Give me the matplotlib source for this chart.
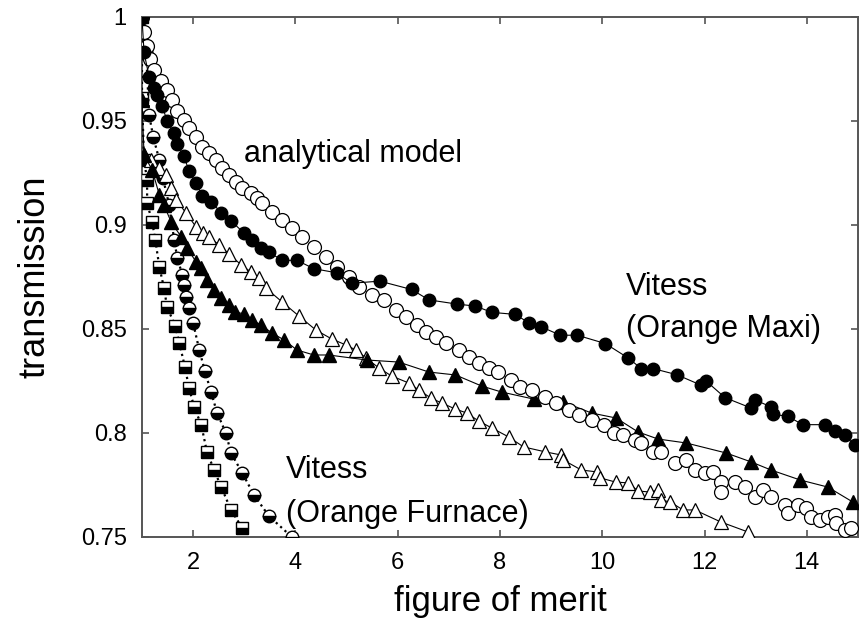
import matplotlib.pyplot as plt
from matplotlib import rcParams

rcParams['font.family'] = ['Liberation Sans', 'DejaVu Sans']

# open circles (no line)
oc_x = [1.00, 1.04, 1.10, 1.16, 1.24, 1.38, 1.49, 1.59, 1.69, 1.82, 1.92, 2.06, 2.18, 2.31,
        2.45, 2.57, 2.70, 2.84, 2.96, 3.13, 3.25, 3.35, 3.54, 3.74, 3.93, 4.13, 4.36, 4.59,
        4.81, 5.05, 5.24, 5.50, 5.73, 5.96, 6.16, 6.37, 6.55, 6.74, 6.94, 7.19, 7.39, 7.58,
        7.78, 7.97, 8.21, 8.40, 8.62, 8.89, 9.09, 9.34, 9.54, 9.79, 10.03, 10.22, 10.41,
        10.64, 10.76, 10.99, 11.15, 11.42, 11.64, 11.81, 12.01, 12.16, 12.32, 12.32, 12.60,
        12.79, 12.98, 13.14, 13.30, 13.57, 13.63, 13.83, 13.98, 14.08, 14.26, 14.41, 14.55,
        14.57, 14.74, 14.86]
oc_y = [1.000, 0.993, 0.986, 0.980, 0.9745, 0.969, 0.965, 0.960, 0.955, 0.9505, 0.9466,
        0.9423, 0.9375, 0.9346, 0.9312, 0.9274, 0.9240, 0.9207, 0.9178, 0.9154, 0.9130,
        0.9106, 0.9062, 0.9024, 0.8986, 0.8942, 0.8894, 0.8846, 0.8798, 0.8750, 0.8702,
        0.8663, 0.8639, 0.8591, 0.8558, 0.8519, 0.8486, 0.8462, 0.8433, 0.8399, 0.8365,
        0.8337, 0.8312, 0.8293, 0.8255, 0.8221, 0.8207, 0.8173, 0.8144, 0.8111, 0.8087,
        0.8063, 0.8038, 0.8000, 0.7990, 0.7966, 0.7952, 0.7909, 0.7909, 0.7856, 0.7870,
        0.7822, 0.7808, 0.7812, 0.7764, 0.7716, 0.7764, 0.7740, 0.7692, 0.7726, 0.7692,
        0.7654, 0.7615, 0.7654, 0.7640, 0.7596, 0.7582, 0.7596, 0.7606, 0.7567, 0.7534,
        0.7543]

# filled circles, Vitess (Orange Maxi)
fc_x = [1.00, 1.04, 1.14, 1.24, 1.30, 1.40, 1.49, 1.63, 1.69, 1.82, 1.92, 2.06, 2.18, 2.35,
        2.55, 2.74, 3.00, 3.15, 3.33, 3.48, 3.74, 4.03, 4.36, 4.81, 5.10, 5.65, 6.27, 6.61,
        7.15, 7.52, 7.84, 8.30, 8.56, 8.81, 9.18, 9.51, 10.06, 10.51, 10.76, 10.99, 11.46,
        11.93, 12.03, 12.40, 12.91, 12.98, 13.30, 13.34, 13.63, 13.92, 14.35, 14.55, 14.74,
        14.94]
fc_y = [0.9995, 0.983, 0.971, 0.966, 0.9625, 0.957, 0.950, 0.944, 0.939, 0.933, 0.926,
        0.920, 0.914, 0.911, 0.906, 0.902, 0.896, 0.893, 0.889, 0.887, 0.883, 0.883, 0.879,
        0.877, 0.872, 0.873, 0.869, 0.864, 0.862, 0.861, 0.858, 0.857, 0.853, 0.851, 0.847,
        0.847, 0.843, 0.836, 0.831, 0.831, 0.828, 0.823, 0.825, 0.817, 0.812, 0.816, 0.8125,
        0.809, 0.808, 0.804, 0.804, 0.801, 0.799, 0.794]

# open triangles
ot_x = [1.04, 1.18, 1.34, 1.47, 1.57, 1.67, 1.86, 2.06, 2.20, 2.31, 2.51, 2.70, 2.94, 3.13,
        3.29, 3.42, 3.74, 4.07, 4.40, 4.71, 4.99, 5.18, 5.38, 5.63, 5.88, 6.22, 6.41, 6.65,
        6.86, 7.13, 7.35, 7.58, 7.84, 8.17, 8.46, 8.89, 9.20, 9.24, 9.59, 9.89, 9.96, 10.26,
        10.51, 10.70, 10.94, 11.09, 11.15, 11.33, 11.58, 11.81, 12.32, 12.85]
ot_y = [0.9337, 0.9312, 0.9274, 0.9240, 0.9178, 0.9120, 0.9058, 0.8990, 0.8962, 0.8942,
        0.8904, 0.8861, 0.8808, 0.8774, 0.8745, 0.8697, 0.8630, 0.8562, 0.8495, 0.8452,
        0.8423, 0.8399, 0.8361, 0.8313, 0.8274, 0.8240, 0.8207, 0.8168, 0.8144, 0.8115,
        0.8096, 0.8058, 0.8024, 0.7981, 0.7933, 0.7909, 0.7894, 0.7870, 0.7822, 0.7813,
        0.7784, 0.7764, 0.7760, 0.7721, 0.7716, 0.7726, 0.7678, 0.7668, 0.7630, 0.7630,
        0.7572, 0.7524]

# filled triangles
ft_x = [1.00, 1.04, 1.20, 1.34, 1.43, 1.57, 1.77, 1.88, 2.06, 2.16, 2.27, 2.41, 2.55, 2.70,
        2.82, 3.00, 3.15, 3.33, 3.54, 3.78, 4.03, 4.36, 4.65, 5.39, 6.02, 6.61, 7.13, 7.64,
        8.03, 8.66, 9.24, 9.79, 10.27, 10.70, 11.09, 11.64, 12.42, 12.91, 13.30, 13.87,
        14.41, 14.90]
ft_y = [0.960, 0.9337, 0.9264, 0.9144, 0.9096, 0.9014, 0.8942, 0.8889, 0.8822, 0.8793,
        0.8736, 0.8688, 0.8649, 0.8615, 0.8582, 0.8572, 0.8543, 0.8519, 0.8481, 0.8447,
        0.8399, 0.8375, 0.8375, 0.8351, 0.8341, 0.8293, 0.8279, 0.8226, 0.8197, 0.8163,
        0.8149, 0.8096, 0.8072, 0.8005, 0.7971, 0.7952, 0.7904, 0.7861, 0.7822, 0.7774,
        0.7740, 0.7668]

# half-filled circles, Vitess (Orange Furnace)
hc_x = [1.00, 1.02, 1.08, 1.14, 1.22, 1.34, 1.41, 1.53, 1.63, 1.69, 1.79, 1.82, 1.86, 1.92,
        2.00, 2.12, 2.23, 2.35, 2.47, 2.64, 2.74, 2.96, 3.19, 3.48, 3.93]
hc_y = [1.000, 0.9923, 0.9832, 0.9529, 0.9423, 0.9312, 0.9226, 0.9096, 0.8928, 0.8841,
        0.8760, 0.8712, 0.8654, 0.8601, 0.8529, 0.8399, 0.8298, 0.8197, 0.8096, 0.8000,
        0.7904, 0.7808, 0.7702, 0.7601, 0.7500]

# half-filled squares
hs_x = [1.00, 1.00, 1.04, 1.10, 1.10, 1.20, 1.26, 1.34, 1.43, 1.49, 1.65, 1.73, 1.84, 1.92,
        2.02, 2.16, 2.27, 2.41, 2.55, 2.74, 2.96]
hs_y = [1.000, 0.961, 0.9313, 0.9216, 0.9106, 0.9014, 0.8928, 0.8798, 0.8697, 0.8606,
        0.8514, 0.8433, 0.8317, 0.8216, 0.8125, 0.8038, 0.7909, 0.7822, 0.7740, 0.7630,
        0.7543]

x_ticks = [2, 4, 6, 8, 10, 12, 14]
y_ticks = [0.75, 0.8, 0.85, 0.9, 0.95, 1.0]
y_labels = ['0.75', '0.8', '0.85', '0.9', '0.95', '1']

DPI = 100
fig = plt.figure(figsize=(8.59, 6.18), dpi=DPI, facecolor='white')
ax = fig.add_axes([0.1653, 0.1311, 0.8335, 0.8414])

thin = dict(color='black', linewidth=0.8)
ax.plot(hs_x, hs_y, linestyle=':', linewidth=1.6, color='black', marker='s',
        markersize=8, fillstyle='bottom', markerfacecolor='black',
        markerfacecoloralt='white', markeredgecolor='black', markeredgewidth=1.0, zorder=3)
ax.plot(hc_x, hc_y, linestyle=':', linewidth=1.6, color='black', marker='o',
        markersize=9, fillstyle='bottom', markerfacecolor='black',
        markerfacecoloralt='white', markeredgecolor='black', markeredgewidth=1.0, zorder=3)
ax.plot(ot_x, ot_y, '-', marker='^', markersize=10, markerfacecolor='white',
        markeredgecolor='black', markeredgewidth=0.9, zorder=4, **thin)
ax.plot(ft_x, ft_y, '-', marker='^', markersize=9.5, markerfacecolor='black',
        markeredgecolor='black', zorder=5, **thin)
ax.plot(oc_x, oc_y, linestyle='none', marker='o', markersize=10, markerfacecolor='white',
        markeredgecolor='black', markeredgewidth=0.9, zorder=6)
ax.plot(fc_x, fc_y, '-', marker='o', markersize=9, markerfacecolor='black',
        markeredgecolor='black', zorder=7, **thin)

ax.set_xlim(1, 15)
ax.set_ylim(0.75, 1.0)
ax.set_xticks(x_ticks)
ax.set_yticks(y_ticks)
ax.set_yticklabels(y_labels)
ax.tick_params(direction='in', top=True, right=True, length=5, width=1.2,
               color='#555555', labelsize=17, pad=11)
for s in ax.spines.values():
    s.set_color('#555555')
    s.set_linewidth(1.4)

ax.set_xlabel('figure of merit', fontsize=25, labelpad=8)
ax.set_ylabel('transmission', fontsize=26, labelpad=20)

ax.text(3.0, 0.9303, 'analytical model', fontsize=22, ha='left', va='baseline')
ax.text(10.47, 0.8663, 'Vitess', fontsize=22, ha='left', va='baseline')
ax.text(10.47, 0.8462, '(Orange Maxi)', fontsize=22, ha='left', va='baseline')
ax.text(3.82, 0.7784, 'Vitess', fontsize=22, ha='left', va='baseline')
ax.text(3.82, 0.7572, '(Orange Furnace)', fontsize=22, ha='left', va='baseline')

plt.savefig('out.png', dpi=DPI, facecolor='white')
plt.close()
